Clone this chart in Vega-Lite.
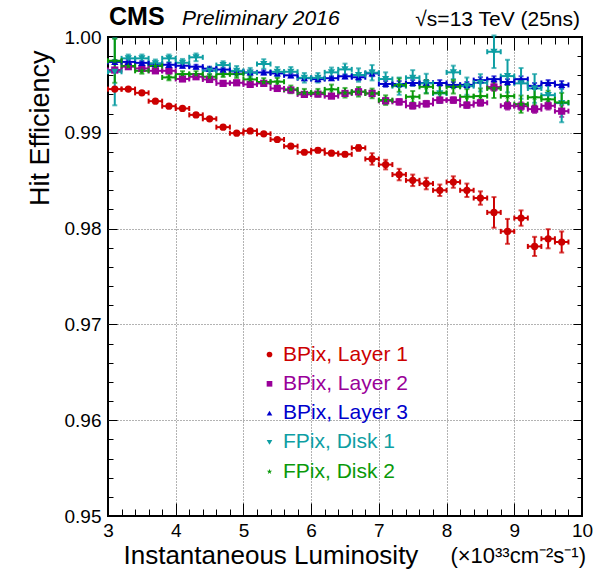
{
  "$schema": "https://vega.github.io/schema/vega-lite/v6.json",
  "autosize": {"type": "none"},
  "padding": {"left": 108, "top": 37, "right": 16, "bottom": 54},
  "width": 474,
  "height": 479,
  "config": {
    "view": {"stroke": "black", "strokeWidth": 2},
    "font": "Liberation Sans",
    "axis": {
      "labelFont": "Liberation Sans",
      "labelFontSize": 19,
      "labelColor": "black",
      "titleFont": "Liberation Sans",
      "titleFontSize": 27,
      "titleFontWeight": "normal",
      "titleColor": "black",
      "tickColor": "black",
      "tickWidth": 1,
      "tickOpacity": 1,
      "domain": false,
      "labelFlush": false,
      "labelOverlap": false
    }
  },
  "datasets": {
    "eff": [
      {"det": "BPix, Layer 1", "lumi": 3.1, "eff": 0.99456, "err": 0.00015},
      {"det": "BPix, Layer 1", "lumi": 3.3, "eff": 0.99456, "err": 0.00015},
      {"det": "BPix, Layer 1", "lumi": 3.5, "eff": 0.99417, "err": 0.00015},
      {"det": "BPix, Layer 1", "lumi": 3.7, "eff": 0.99330, "err": 0.00015},
      {"det": "BPix, Layer 1", "lumi": 3.9, "eff": 0.99278, "err": 0.00015},
      {"det": "BPix, Layer 1", "lumi": 4.1, "eff": 0.99254, "err": 0.00015},
      {"det": "BPix, Layer 1", "lumi": 4.3, "eff": 0.99187, "err": 0.00015},
      {"det": "BPix, Layer 1", "lumi": 4.5, "eff": 0.99146, "err": 0.00015},
      {"det": "BPix, Layer 1", "lumi": 4.7, "eff": 0.99059, "err": 0.00015},
      {"det": "BPix, Layer 1", "lumi": 4.9, "eff": 0.98996, "err": 0.00015},
      {"det": "BPix, Layer 1", "lumi": 5.1, "eff": 0.99020, "err": 0.00015},
      {"det": "BPix, Layer 1", "lumi": 5.3, "eff": 0.98989, "err": 0.00015},
      {"det": "BPix, Layer 1", "lumi": 5.5, "eff": 0.98930, "err": 0.00015},
      {"det": "BPix, Layer 1", "lumi": 5.7, "eff": 0.98860, "err": 0.00015},
      {"det": "BPix, Layer 1", "lumi": 5.9, "eff": 0.98797, "err": 0.00015},
      {"det": "BPix, Layer 1", "lumi": 6.1, "eff": 0.98818, "err": 0.0002},
      {"det": "BPix, Layer 1", "lumi": 6.3, "eff": 0.98787, "err": 0.0002},
      {"det": "BPix, Layer 1", "lumi": 6.5, "eff": 0.98776, "err": 0.0002},
      {"det": "BPix, Layer 1", "lumi": 6.7, "eff": 0.98842, "err": 0.0003},
      {"det": "BPix, Layer 1", "lumi": 6.9, "eff": 0.98727, "err": 0.0006},
      {"det": "BPix, Layer 1", "lumi": 7.1, "eff": 0.98668, "err": 0.0005},
      {"det": "BPix, Layer 1", "lumi": 7.3, "eff": 0.98564, "err": 0.0006},
      {"det": "BPix, Layer 1", "lumi": 7.5, "eff": 0.98504, "err": 0.0006},
      {"det": "BPix, Layer 1", "lumi": 7.7, "eff": 0.98470, "err": 0.0006},
      {"det": "BPix, Layer 1", "lumi": 7.9, "eff": 0.98400, "err": 0.0006},
      {"det": "BPix, Layer 1", "lumi": 8.1, "eff": 0.98486, "err": 0.0006},
      {"det": "BPix, Layer 1", "lumi": 8.3, "eff": 0.98400, "err": 0.0007},
      {"det": "BPix, Layer 1", "lumi": 8.5, "eff": 0.98319, "err": 0.0007},
      {"det": "BPix, Layer 1", "lumi": 8.7, "eff": 0.98169, "err": 0.0016},
      {"det": "BPix, Layer 1", "lumi": 8.9, "eff": 0.97971, "err": 0.0013},
      {"det": "BPix, Layer 1", "lumi": 9.1, "eff": 0.98110, "err": 0.0008},
      {"det": "BPix, Layer 1", "lumi": 9.3, "eff": 0.97814, "err": 0.0010},
      {"det": "BPix, Layer 1", "lumi": 9.5, "eff": 0.97894, "err": 0.0010},
      {"det": "BPix, Layer 1", "lumi": 9.7, "eff": 0.97860, "err": 0.0011},

      {"det": "BPix, Layer 2", "lumi": 3.1, "eff": 0.99655, "err": 0.0002},
      {"det": "BPix, Layer 2", "lumi": 3.3, "eff": 0.99690, "err": 0.0002},
      {"det": "BPix, Layer 2", "lumi": 3.5, "eff": 0.99672, "err": 0.0002},
      {"det": "BPix, Layer 2", "lumi": 3.7, "eff": 0.99647, "err": 0.0002},
      {"det": "BPix, Layer 2", "lumi": 3.9, "eff": 0.99647, "err": 0.0002},
      {"det": "BPix, Layer 2", "lumi": 4.1, "eff": 0.99562, "err": 0.0002},
      {"det": "BPix, Layer 2", "lumi": 4.3, "eff": 0.99585, "err": 0.0002},
      {"det": "BPix, Layer 2", "lumi": 4.5, "eff": 0.99557, "err": 0.0002},
      {"det": "BPix, Layer 2", "lumi": 4.7, "eff": 0.99516, "err": 0.0002},
      {"det": "BPix, Layer 2", "lumi": 4.9, "eff": 0.99522, "err": 0.0002},
      {"det": "BPix, Layer 2", "lumi": 5.1, "eff": 0.99505, "err": 0.0002},
      {"det": "BPix, Layer 2", "lumi": 5.3, "eff": 0.99516, "err": 0.0002},
      {"det": "BPix, Layer 2", "lumi": 5.5, "eff": 0.99463, "err": 0.0002},
      {"det": "BPix, Layer 2", "lumi": 5.7, "eff": 0.99446, "err": 0.0002},
      {"det": "BPix, Layer 2", "lumi": 5.9, "eff": 0.99401, "err": 0.0002},
      {"det": "BPix, Layer 2", "lumi": 6.1, "eff": 0.99404, "err": 0.0002},
      {"det": "BPix, Layer 2", "lumi": 6.3, "eff": 0.99383, "err": 0.0002},
      {"det": "BPix, Layer 2", "lumi": 6.5, "eff": 0.99411, "err": 0.0002},
      {"det": "BPix, Layer 2", "lumi": 6.7, "eff": 0.99428, "err": 0.0003},
      {"det": "BPix, Layer 2", "lumi": 6.9, "eff": 0.99411, "err": 0.0003},
      {"det": "BPix, Layer 2", "lumi": 7.1, "eff": 0.99334, "err": 0.0003},
      {"det": "BPix, Layer 2", "lumi": 7.3, "eff": 0.99323, "err": 0.0003},
      {"det": "BPix, Layer 2", "lumi": 7.5, "eff": 0.99282, "err": 0.0003},
      {"det": "BPix, Layer 2", "lumi": 7.7, "eff": 0.99303, "err": 0.0003},
      {"det": "BPix, Layer 2", "lumi": 7.9, "eff": 0.99341, "err": 0.0003},
      {"det": "BPix, Layer 2", "lumi": 8.1, "eff": 0.99341, "err": 0.0003},
      {"det": "BPix, Layer 2", "lumi": 8.3, "eff": 0.99289, "err": 0.0003},
      {"det": "BPix, Layer 2", "lumi": 8.5, "eff": 0.99313, "err": 0.0003},
      {"det": "BPix, Layer 2", "lumi": 8.7, "eff": 0.99477, "err": 0.0004},
      {"det": "BPix, Layer 2", "lumi": 8.9, "eff": 0.99282, "err": 0.0004},
      {"det": "BPix, Layer 2", "lumi": 9.1, "eff": 0.99278, "err": 0.0004},
      {"det": "BPix, Layer 2", "lumi": 9.3, "eff": 0.99247, "err": 0.0004},
      {"det": "BPix, Layer 2", "lumi": 9.5, "eff": 0.99282, "err": 0.0004},
      {"det": "BPix, Layer 2", "lumi": 9.7, "eff": 0.99226, "err": 0.0006},

      {"det": "BPix, Layer 3", "lumi": 3.1, "eff": 0.99740, "err": 0.0002},
      {"det": "BPix, Layer 3", "lumi": 3.3, "eff": 0.99740, "err": 0.0002},
      {"det": "BPix, Layer 3", "lumi": 3.5, "eff": 0.99730, "err": 0.0002},
      {"det": "BPix, Layer 3", "lumi": 3.7, "eff": 0.99720, "err": 0.0002},
      {"det": "BPix, Layer 3", "lumi": 3.9, "eff": 0.99710, "err": 0.0002},
      {"det": "BPix, Layer 3", "lumi": 4.1, "eff": 0.99700, "err": 0.0002},
      {"det": "BPix, Layer 3", "lumi": 4.3, "eff": 0.99690, "err": 0.0002},
      {"det": "BPix, Layer 3", "lumi": 4.5, "eff": 0.99670, "err": 0.0002},
      {"det": "BPix, Layer 3", "lumi": 4.7, "eff": 0.99660, "err": 0.0002},
      {"det": "BPix, Layer 3", "lumi": 4.9, "eff": 0.99640, "err": 0.0002},
      {"det": "BPix, Layer 3", "lumi": 5.1, "eff": 0.99630, "err": 0.0002},
      {"det": "BPix, Layer 3", "lumi": 5.3, "eff": 0.99630, "err": 0.0002},
      {"det": "BPix, Layer 3", "lumi": 5.5, "eff": 0.99620, "err": 0.0002},
      {"det": "BPix, Layer 3", "lumi": 5.7, "eff": 0.99600, "err": 0.0002},
      {"det": "BPix, Layer 3", "lumi": 5.9, "eff": 0.99570, "err": 0.0002},
      {"det": "BPix, Layer 3", "lumi": 6.1, "eff": 0.99560, "err": 0.0002},
      {"det": "BPix, Layer 3", "lumi": 6.3, "eff": 0.99570, "err": 0.0002},
      {"det": "BPix, Layer 3", "lumi": 6.5, "eff": 0.99590, "err": 0.0002},
      {"det": "BPix, Layer 3", "lumi": 6.7, "eff": 0.99580, "err": 0.0003},
      {"det": "BPix, Layer 3", "lumi": 6.9, "eff": 0.99620, "err": 0.0003},
      {"det": "BPix, Layer 3", "lumi": 7.1, "eff": 0.99510, "err": 0.0003},
      {"det": "BPix, Layer 3", "lumi": 7.3, "eff": 0.99510, "err": 0.0003},
      {"det": "BPix, Layer 3", "lumi": 7.5, "eff": 0.99520, "err": 0.0003},
      {"det": "BPix, Layer 3", "lumi": 7.7, "eff": 0.99520, "err": 0.0003},
      {"det": "BPix, Layer 3", "lumi": 7.9, "eff": 0.99520, "err": 0.0003},
      {"det": "BPix, Layer 3", "lumi": 8.1, "eff": 0.99500, "err": 0.0003},
      {"det": "BPix, Layer 3", "lumi": 8.3, "eff": 0.99500, "err": 0.0003},
      {"det": "BPix, Layer 3", "lumi": 8.5, "eff": 0.99550, "err": 0.0003},
      {"det": "BPix, Layer 3", "lumi": 8.7, "eff": 0.99560, "err": 0.0003},
      {"det": "BPix, Layer 3", "lumi": 8.9, "eff": 0.99530, "err": 0.0003},
      {"det": "BPix, Layer 3", "lumi": 9.1, "eff": 0.99560, "err": 0.0003},
      {"det": "BPix, Layer 3", "lumi": 9.3, "eff": 0.99490, "err": 0.0003},
      {"det": "BPix, Layer 3", "lumi": 9.5, "eff": 0.99520, "err": 0.0003},
      {"det": "BPix, Layer 3", "lumi": 9.7, "eff": 0.99500, "err": 0.0004},

      {"det": "FPix, Disk 1", "lumi": 3.1, "eff": 0.99637, "err": 0.0035},
      {"det": "FPix, Disk 1", "lumi": 3.3, "eff": 0.99777, "err": 0.0004},
      {"det": "FPix, Disk 1", "lumi": 3.5, "eff": 0.99777, "err": 0.0004},
      {"det": "FPix, Disk 1", "lumi": 3.7, "eff": 0.99725, "err": 0.0004},
      {"det": "FPix, Disk 1", "lumi": 3.9, "eff": 0.99777, "err": 0.0004},
      {"det": "FPix, Disk 1", "lumi": 4.1, "eff": 0.99731, "err": 0.0004},
      {"det": "FPix, Disk 1", "lumi": 4.3, "eff": 0.99788, "err": 0.0004},
      {"det": "FPix, Disk 1", "lumi": 4.5, "eff": 0.99647, "err": 0.0004},
      {"det": "FPix, Disk 1", "lumi": 4.7, "eff": 0.99707, "err": 0.0004},
      {"det": "FPix, Disk 1", "lumi": 4.9, "eff": 0.99647, "err": 0.0005},
      {"det": "FPix, Disk 1", "lumi": 5.1, "eff": 0.99627, "err": 0.0005},
      {"det": "FPix, Disk 1", "lumi": 5.3, "eff": 0.99718, "err": 0.0005},
      {"det": "FPix, Disk 1", "lumi": 5.5, "eff": 0.99637, "err": 0.0005},
      {"det": "FPix, Disk 1", "lumi": 5.7, "eff": 0.99637, "err": 0.0005},
      {"det": "FPix, Disk 1", "lumi": 5.9, "eff": 0.99574, "err": 0.0005},
      {"det": "FPix, Disk 1", "lumi": 6.1, "eff": 0.99574, "err": 0.0005},
      {"det": "FPix, Disk 1", "lumi": 6.3, "eff": 0.99631, "err": 0.0005},
      {"det": "FPix, Disk 1", "lumi": 6.5, "eff": 0.99662, "err": 0.0006},
      {"det": "FPix, Disk 1", "lumi": 6.7, "eff": 0.99603, "err": 0.0007},
      {"det": "FPix, Disk 1", "lumi": 6.9, "eff": 0.99627, "err": 0.0008},
      {"det": "FPix, Disk 1", "lumi": 7.1, "eff": 0.99561, "err": 0.0007},
      {"det": "FPix, Disk 1", "lumi": 7.3, "eff": 0.99487, "err": 0.0009},
      {"det": "FPix, Disk 1", "lumi": 7.5, "eff": 0.99574, "err": 0.0008},
      {"det": "FPix, Disk 1", "lumi": 7.7, "eff": 0.99516, "err": 0.0010},
      {"det": "FPix, Disk 1", "lumi": 7.9, "eff": 0.99411, "err": 0.0010},
      {"det": "FPix, Disk 1", "lumi": 8.1, "eff": 0.99631, "err": 0.0007},
      {"det": "FPix, Disk 1", "lumi": 8.3, "eff": 0.99487, "err": 0.0009},
      {"det": "FPix, Disk 1", "lumi": 8.5, "eff": 0.99522, "err": 0.0009},
      {"det": "FPix, Disk 1", "lumi": 8.7, "eff": 0.99846, "err": 0.0017},
      {"det": "FPix, Disk 1", "lumi": 8.9, "eff": 0.99592, "err": 0.0017},
      {"det": "FPix, Disk 1", "lumi": 9.1, "eff": 0.99516, "err": 0.0016},
      {"det": "FPix, Disk 1", "lumi": 9.3, "eff": 0.99463, "err": 0.0015},
      {"det": "FPix, Disk 1", "lumi": 9.5, "eff": 0.99393, "err": 0.0013},
      {"det": "FPix, Disk 1", "lumi": 9.7, "eff": 0.99310, "err": 0.0020},

      {"det": "FPix, Disk 2", "lumi": 3.1, "eff": 0.99752, "err": 0.0023},
      {"det": "FPix, Disk 2", "lumi": 3.3, "eff": 0.99697, "err": 0.0003},
      {"det": "FPix, Disk 2", "lumi": 3.5, "eff": 0.99647, "err": 0.0003},
      {"det": "FPix, Disk 2", "lumi": 3.7, "eff": 0.99697, "err": 0.0003},
      {"det": "FPix, Disk 2", "lumi": 3.9, "eff": 0.99578, "err": 0.0003},
      {"det": "FPix, Disk 2", "lumi": 4.1, "eff": 0.99613, "err": 0.0003},
      {"det": "FPix, Disk 2", "lumi": 4.3, "eff": 0.99613, "err": 0.0003},
      {"det": "FPix, Disk 2", "lumi": 4.5, "eff": 0.99585, "err": 0.0003},
      {"det": "FPix, Disk 2", "lumi": 4.7, "eff": 0.99613, "err": 0.0003},
      {"det": "FPix, Disk 2", "lumi": 4.9, "eff": 0.99613, "err": 0.0004},
      {"det": "FPix, Disk 2", "lumi": 5.1, "eff": 0.99557, "err": 0.0004},
      {"det": "FPix, Disk 2", "lumi": 5.3, "eff": 0.99530, "err": 0.0004},
      {"det": "FPix, Disk 2", "lumi": 5.5, "eff": 0.99533, "err": 0.0004},
      {"det": "FPix, Disk 2", "lumi": 5.7, "eff": 0.99453, "err": 0.0004},
      {"det": "FPix, Disk 2", "lumi": 5.9, "eff": 0.99418, "err": 0.0004},
      {"det": "FPix, Disk 2", "lumi": 6.1, "eff": 0.99418, "err": 0.0004},
      {"det": "FPix, Disk 2", "lumi": 6.3, "eff": 0.99453, "err": 0.0005},
      {"det": "FPix, Disk 2", "lumi": 6.5, "eff": 0.99418, "err": 0.0005},
      {"det": "FPix, Disk 2", "lumi": 6.7, "eff": 0.99428, "err": 0.0005},
      {"det": "FPix, Disk 2", "lumi": 6.9, "eff": 0.99411, "err": 0.0005},
      {"det": "FPix, Disk 2", "lumi": 7.1, "eff": 0.99341, "err": 0.0005},
      {"det": "FPix, Disk 2", "lumi": 7.3, "eff": 0.99498, "err": 0.0007},
      {"det": "FPix, Disk 2", "lumi": 7.5, "eff": 0.99376, "err": 0.0006},
      {"det": "FPix, Disk 2", "lumi": 7.7, "eff": 0.99480, "err": 0.0007},
      {"det": "FPix, Disk 2", "lumi": 7.9, "eff": 0.99418, "err": 0.0008},
      {"det": "FPix, Disk 2", "lumi": 8.1, "eff": 0.99480, "err": 0.0007},
      {"det": "FPix, Disk 2", "lumi": 8.3, "eff": 0.99376, "err": 0.0008},
      {"det": "FPix, Disk 2", "lumi": 8.5, "eff": 0.99383, "err": 0.0008},
      {"det": "FPix, Disk 2", "lumi": 8.7, "eff": 0.99463, "err": 0.0010},
      {"det": "FPix, Disk 2", "lumi": 8.9, "eff": 0.99383, "err": 0.0012},
      {"det": "FPix, Disk 2", "lumi": 9.1, "eff": 0.99299, "err": 0.0009},
      {"det": "FPix, Disk 2", "lumi": 9.3, "eff": 0.99370, "err": 0.0009},
      {"det": "FPix, Disk 2", "lumi": 9.5, "eff": 0.99349, "err": 0.0009},
      {"det": "FPix, Disk 2", "lumi": 9.7, "eff": 0.99317, "err": 0.0010}
    ]
  },
  "data": {"name": "eff"},
  "resolve": {"axis": {"x": "independent", "y": "independent"}, "legend": {"color": "independent", "shape": "independent"}},
  "layer": [
    {
      "mark": {"type": "errorbar", "thickness": 2, "ticks": {"size": 5, "thickness": 2}},
      "encoding": {
        "x": {"field": "lumi", "type": "quantitative", "scale": {"domain": [3, 10], "nice": false, "zero": false}, "axis": null},
        "y": {"field": "eff", "type": "quantitative", "scale": {"domain": [0.95, 1.0], "nice": false, "zero": false}, "axis": null},
        "yError": {"field": "err"},
        "color": {"field": "det", "type": "nominal", "legend": null,
          "scale": {"domain": ["BPix, Layer 1", "BPix, Layer 2", "BPix, Layer 3", "FPix, Disk 1", "FPix, Disk 2"],
                    "range": ["#cc0000", "#990099", "#0000cc", "#0e9ea3", "#0a990a"]}}
      }
    },
    {
      "mark": {"type": "tick", "orient": "horizontal", "size": 13.5, "thickness": 2, "opacity": 1},
      "encoding": {
        "x": {"field": "lumi", "type": "quantitative", "scale": {"domain": [3, 10], "nice": false, "zero": false}, "axis": null},
        "y": {"field": "eff", "type": "quantitative", "scale": {"domain": [0.95, 1.0], "nice": false, "zero": false}, "axis": null},
        "color": {"field": "det", "type": "nominal", "legend": null}
      }
    },
    {
      "mark": {"type": "tick", "orient": "vertical", "size": 5, "thickness": 2, "opacity": 1, "xOffset": -6.75},
      "encoding": {
        "x": {"field": "lumi", "type": "quantitative", "scale": {"domain": [3, 10], "nice": false, "zero": false},
          "axis": {"orient": "bottom", "offset": -13, "title": null, "labels": false, "grid": false, "ticks": true,
            "values": [3,3.2,3.4,3.6,3.8,4,4.2,4.4,4.6,4.8,5,5.2,5.4,5.6,5.8,6,6.2,6.4,6.6,6.8,7,7.2,7.4,7.6,7.8,8,8.2,8.4,8.6,8.8,9,9.2,9.4,9.6,9.8,10],
            "tickSize": 13,
            "tickDash": {"condition": {"test": "abs(datum.value - round(datum.value)) < 0.001", "value": [30, 1]}, "value": [0, 6, 7, 30]}}},
        "y": {"field": "eff", "type": "quantitative", "scale": {"domain": [0.95, 1.0], "nice": false, "zero": false},
          "axis": {"orient": "left", "offset": -9, "title": null, "labels": false, "grid": false, "ticks": true,
            "values": [0.95,0.952,0.954,0.956,0.958,0.96,0.962,0.964,0.966,0.968,0.97,0.972,0.974,0.976,0.978,0.98,0.982,0.984,0.986,0.988,0.99,0.992,0.994,0.996,0.998,1.0],
            "tickSize": 9,
            "tickDash": {"condition": {"test": "abs(datum.value*100 - round(datum.value*100)) < 0.001", "value": [30, 1]}, "value": [0, 4, 5, 30]}}},
        "color": {"field": "det", "type": "nominal", "legend": null}
      }
    },
    {
      "mark": {"type": "tick", "orient": "vertical", "size": 5, "thickness": 2, "opacity": 1, "xOffset": 6.75},
      "encoding": {
        "x": {"field": "lumi", "type": "quantitative", "scale": {"domain": [3, 10], "nice": false, "zero": false},
          "axis": {"orient": "top", "offset": -13, "title": null, "labels": false, "grid": false, "ticks": true,
            "values": [3,3.2,3.4,3.6,3.8,4,4.2,4.4,4.6,4.8,5,5.2,5.4,5.6,5.8,6,6.2,6.4,6.6,6.8,7,7.2,7.4,7.6,7.8,8,8.2,8.4,8.6,8.8,9,9.2,9.4,9.6,9.8,10],
            "tickSize": 13,
            "tickDash": {"condition": {"test": "abs(datum.value - round(datum.value)) < 0.001", "value": [30, 1]}, "value": [0, 6, 7, 30]}}},
        "y": {"field": "eff", "type": "quantitative", "scale": {"domain": [0.95, 1.0], "nice": false, "zero": false},
          "axis": {"orient": "right", "offset": -9, "title": null, "labels": false, "grid": false, "ticks": true,
            "values": [0.95,0.952,0.954,0.956,0.958,0.96,0.962,0.964,0.966,0.968,0.97,0.972,0.974,0.976,0.978,0.98,0.982,0.984,0.986,0.988,0.99,0.992,0.994,0.996,0.998,1.0],
            "tickSize": 9,
            "tickDash": {"condition": {"test": "abs(datum.value*100 - round(datum.value*100)) < 0.001", "value": [30, 1]}, "value": [0, 4, 5, 30]}}},
        "color": {"field": "det", "type": "nominal", "legend": null}
      }
    },
    {
      "mark": {"type": "point", "filled": true, "opacity": 1, "size": 52},
      "encoding": {
        "x": {"field": "lumi", "type": "quantitative", "scale": {"domain": [3, 10], "nice": false, "zero": false},
          "axis": {"orient": "bottom", "title": "Instantaneous Luminosity", "ticks": false,
            "values": [3,4,5,6,7,8,9,10],
            "format": "d",
            "labelPadding": 5,
            "grid": true, "gridColor": "#666", "gridDash": [1, 2], "gridWidth": 1,
            "gridOpacity": {"condition": {"test": "datum.value > 3.01 && datum.value < 9.99", "value": 1}, "value": 0},
            "titleFontSize": 26, "titleX": 15, "titleY": 47, "titleAlign": "left", "titleBaseline": "alphabetic"}},
        "y": {"field": "eff", "type": "quantitative", "scale": {"domain": [0.95, 1.0], "nice": false, "zero": false},
          "axis": {"orient": "left", "title": "Hit Efficiency", "ticks": false,
            "values": [0.95, 0.96, 0.97, 0.98, 0.99, 1.0],
            "format": ".2f",
            "labelPadding": 7,
            "grid": true, "gridColor": "#666", "gridDash": [1, 2], "gridWidth": 1,
            "gridOpacity": {"condition": {"test": "datum.value > 0.951 && datum.value < 0.999", "value": 1}, "value": 0},
            "titleX": -60, "titleY": 13, "titleAlign": "right", "titleAngle": -90, "titleBaseline": "alphabetic"}},
        "color": {"field": "det", "type": "nominal",
          "legend": {"title": null, "orient": "none", "legendX": 151, "legendY": 307, "padding": 0,
            "symbolSize": 32, "labelFontSize": 21, "labelFont": "Liberation Sans", "labelOffset": 3,
            "rowPadding": 7.3, "labelColor": {"expr": "scale('color', datum.value)"}}},
        "shape": {"field": "det", "type": "nominal",
          "scale": {"domain": ["BPix, Layer 1", "BPix, Layer 2", "BPix, Layer 3", "FPix, Disk 1", "FPix, Disk 2"],
                    "range": ["circle", "square", "triangle-up", "triangle-down",
                              "M0,-1L0.2245,-0.309L0.951,-0.309L0.363,0.118L0.588,0.809L0,0.382L-0.588,0.809L-0.363,0.118L-0.951,-0.309L-0.2245,-0.309Z"]},
          "legend": {"title": null, "orient": "none", "legendX": 151, "legendY": 307, "padding": 0,
            "symbolSize": 32, "labelFontSize": 21, "labelFont": "Liberation Sans", "labelOffset": 3,
            "rowPadding": 7.3, "labelColor": {"expr": "scale('color', datum.value)"}}}
      }
    },
    {
      "data": {"values": [{}]},
      "mark": {"type": "text", "text": "CMS", "font": "Liberation Sans", "fontWeight": "bold", "fontSize": 25, "align": "left", "baseline": "alphabetic", "dx": 1, "dy": -12, "color": "black"},
      "encoding": {
        "x": {"datum": 3, "type": "quantitative", "scale": {"domain": [3, 10], "nice": false, "zero": false}, "axis": null},
        "y": {"datum": 1.0, "type": "quantitative", "scale": {"domain": [0.95, 1.0], "nice": false, "zero": false}, "axis": null}
      }
    },
    {
      "data": {"values": [{}]},
      "mark": {"type": "text", "text": "Preliminary 2016", "font": "Liberation Sans", "fontStyle": "italic", "fontSize": 21, "align": "left", "baseline": "alphabetic", "dx": 74, "dy": -12, "color": "black"},
      "encoding": {
        "x": {"datum": 3, "type": "quantitative", "scale": {"domain": [3, 10], "nice": false, "zero": false}, "axis": null},
        "y": {"datum": 1.0, "type": "quantitative", "scale": {"domain": [0.95, 1.0], "nice": false, "zero": false}, "axis": null}
      }
    },
    {
      "data": {"values": [{}]},
      "mark": {"type": "text", "text": "√s=13 TeV (25ns)", "font": "Liberation Sans", "fontSize": 21, "align": "right", "baseline": "alphabetic", "dx": -2, "dy": -11, "color": "black"},
      "encoding": {
        "x": {"datum": 10, "type": "quantitative", "scale": {"domain": [3, 10], "nice": false, "zero": false}, "axis": null},
        "y": {"datum": 1.0, "type": "quantitative", "scale": {"domain": [0.95, 1.0], "nice": false, "zero": false}, "axis": null}
      }
    },
    {
      "data": {"values": [{}]},
      "mark": {"type": "text", "text": "(×10³³cm⁻²s⁻¹)", "font": "Liberation Sans", "fontSize": 22, "align": "right", "baseline": "alphabetic", "dx": 4, "dy": 47, "color": "black"},
      "encoding": {
        "x": {"datum": 10, "type": "quantitative", "scale": {"domain": [3, 10], "nice": false, "zero": false}, "axis": null},
        "y": {"datum": 0.95, "type": "quantitative", "scale": {"domain": [0.95, 1.0], "nice": false, "zero": false}, "axis": null}
      }
    }
  ]
}
